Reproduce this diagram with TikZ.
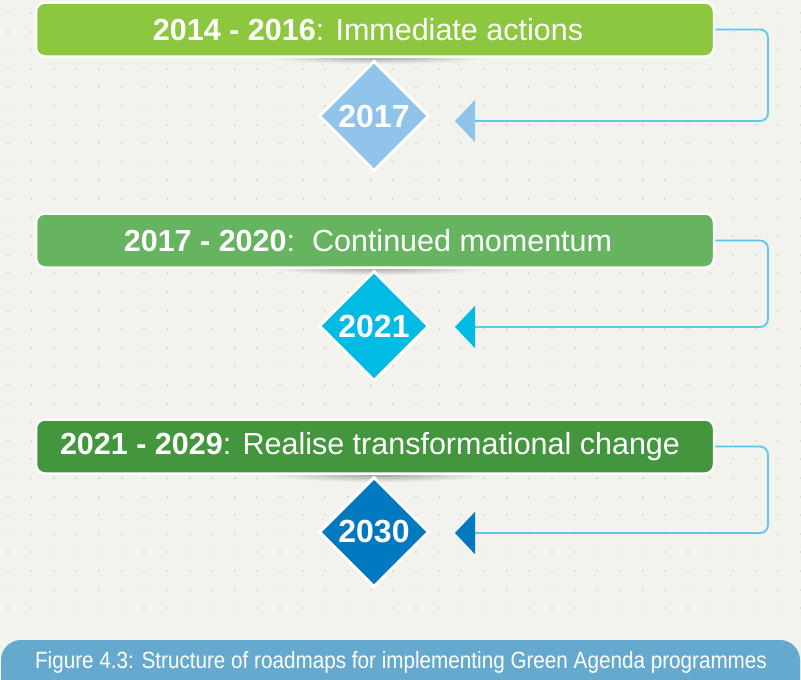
\documentclass[tikz,border=0pt]{standalone}
\usepackage{fontspec}
\setmainfont{Liberation Sans}
\usetikzlibrary{shapes.geometric,arrows.meta}
\definecolor{bgc}{HTML}{F3F3EE}
\definecolor{dotc}{HTML}{DCDFCB}
\definecolor{barA}{HTML}{8DC63F}
\definecolor{barB}{HTML}{66B45F}
\definecolor{barC}{HTML}{43963D}
\definecolor{diaA}{HTML}{8FC3EA}
\definecolor{diaB}{HTML}{00BBE4}
\definecolor{diaC}{HTML}{0079C1}
\definecolor{linec}{HTML}{5CC7EA}
\definecolor{capc}{HTML}{66A9CF}
\begin{document}
\begin{tikzpicture}[x=1pt,y=-1pt,
  bar/.style={rounded corners=9pt, draw=white, line width=2.5pt, minimum width=678pt,
    minimum height=54pt, inner sep=0pt, text=white, font=\fontsize{30.5}{34}\selectfont},
  dia/.style={diamond, draw=white, line width=3pt, minimum width=110pt, minimum height=110pt,
    inner sep=0pt, text=white, font=\bfseries\fontsize{32}{36}\selectfont},
  conn/.style={draw=linec, line width=1.8pt, rounded corners=8pt},
  tipA/.style={-{Triangle[width=42pt,length=20pt,color=diaA,fill=diaA]}},
  tipB/.style={-{Triangle[width=42pt,length=20pt,color=diaB,fill=diaB]}},
  tipC/.style={-{Triangle[width=42pt,length=20pt,color=diaC,fill=diaC]}},
  barshadow/.style={inner color=black!35, outer color=bgc},
  captext/.style={text=white, inner sep=0pt, font=\fontsize{23.5}{27}\selectfont}]
\useasboundingbox (0,0) rectangle (801,680);
\clip (0,0) rectangle (801,680);
\fill[bgc] (0,0) rectangle (801,680);
% dot grid
\foreach \i in {0,...,35} {
  \foreach \j in {0,...,32} {
    \fill[dotc] ({8.3+22.65*\i-1},{12.9+18.6*\j-1}) rectangle ++(2,2);
  }
}
% shadows under bars
\shade[barshadow] (378,57) ellipse (110 and 7);
\shade[barshadow] (378,268) ellipse (110 and 7);
\shade[barshadow] (378,475) ellipse (110 and 7);
% bars
\node[bar, fill=barA] (b1) at (375,29.5) {\textbf{2014 - 2016}: Immediate actions\hspace*{14pt}};
\node[bar, fill=barB] (b2) at (375,240.5) {\textbf{2017 - 2020}:\ \ Continued momentum\hspace*{14pt}};
\node[bar, fill=barC] (b3) at (375,446.5) {\textbf{2021 - 2029}: Realise transformational change\hspace*{10pt}};
% diamonds
\node[dia, fill=diaA] (d1) at (374,116) {2017};
\node[dia, fill=diaB] (d2) at (374,326) {2021};
\node[dia, fill=diaC] (d3) at (374,532) {2030};
% connector coordinates
\coordinate (k) at (768,0);
\coordinate (t1) at (455,121);
\coordinate (t2) at (455,327);
\coordinate (t3) at (455,533);
\draw[conn, tipA] (b1.east) -- (b1.east -| k) |- (t1);
\draw[conn, tipB] (b2.east) -- (b2.east -| k) |- (t2);
\draw[conn, tipC] (b3.east) -- (b3.east -| k) |- (t3);
% caption
\fill[capc, rounded corners=20pt] (1,640) rectangle (800,720);
\node[captext] (cap) at (401,662) {\scalebox{0.88}[1]{Figure 4.3: Structure of roadmaps for implementing Green Agenda programmes}};
\end{tikzpicture}
\end{document}
